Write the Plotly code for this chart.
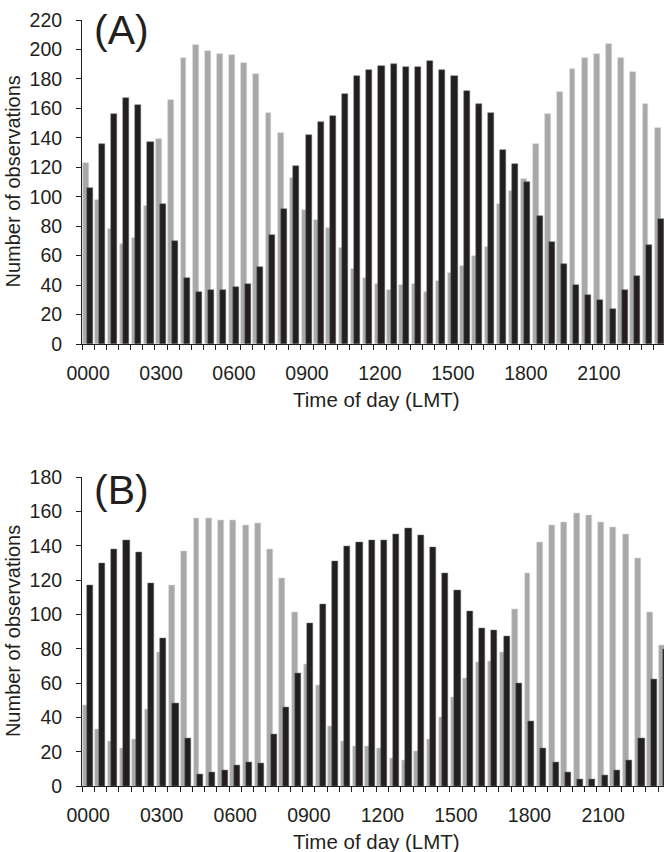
import plotly.graph_objects as go

time_bins = ["0000", "0030", "0100", "0130", "0200", "0230", "0300", "0330",
             "0400", "0430", "0500", "0530", "0600", "0630", "0700", "0730",
             "0800", "0830", "0900", "0930", "1000", "1030", "1100", "1130",
             "1200", "1230", "1300", "1330", "1400", "1430", "1500", "1530",
             "1600", "1630", "1700", "1730", "1800", "1830", "1900", "1930",
             "2000", "2030", "2100", "2130", "2200", "2230", "2300", "2330"]
tick_labels = ["0000", "0300", "0600", "0900", "1200", "1500", "1800", "2100"]

a_gray = [123, 98, 78, 68, 72, 94, 139, 166, 194, 203, 199, 197, 196, 191, 183, 157,
          143, 113, 91, 84, 79, 65, 51, 45, 41, 37, 40, 41, 35, 43, 48, 53,
          60, 66, 95, 104, 112, 136, 156, 171, 187, 194, 197, 204, 194, 185, 163, 147]
a_black = [106, 136, 156, 167, 162, 137, 95, 70, 45, 35, 37, 37, 39, 41, 52, 74,
           92, 121, 142, 151, 155, 170, 182, 186, 189, 190, 188, 188, 192, 186, 182, 172,
           163, 157, 132, 122, 110, 87, 69, 54, 40, 33, 30, 24, 37, 46, 67, 85]

b_gray = [47, 33, 26, 22, 27, 45, 78, 117, 137, 156, 156, 155, 155, 152, 153, 138,
          121, 101, 71, 59, 35, 26, 23, 23, 22, 16, 15, 20, 27, 40, 52, 63,
          72, 73, 78, 103, 124, 142, 152, 154, 159, 158, 154, 151, 147, 133, 101, 82]
b_black = [117, 130, 138, 143, 136, 118, 86, 48, 28, 7, 8, 9, 12, 14, 13, 30,
           46, 66, 95, 106, 131, 140, 142, 143, 143, 147, 150, 146, 139, 124, 114, 102,
           92, 91, 87, 60, 38, 22, 14, 8, 4, 4, 6, 9, 15, 28, 62, 80]

GRAY = "#a7a9a9"
BLACK = "#231f20"
AX = "#231f20"
FONT = "Liberation Sans, Arial, sans-serif"

x = list(range(len(time_bins)))
tickvals = [time_bins.index(t) for t in tick_labels]

fig = go.Figure()
panels = [(a_gray, a_black, "x", "y"), (b_gray, b_black, "x2", "y2")]
for g, k, xa, ya in panels:
    fig.add_trace(go.Bar(x=x, y=g, xaxis=xa, yaxis=ya, marker=dict(color=GRAY, line=dict(color="#d4d4d4", width=0.6)),
                         offset=-0.40, width=0.48, showlegend=False))
    fig.add_trace(go.Bar(x=x, y=k, xaxis=xa, yaxis=ya, marker=dict(color=BLACK, line=dict(color="#6a6a6a", width=0.5)),
                         offset=-0.12, width=0.50, showlegend=False))

def xaxis_cfg(rng, anchor):
    return dict(range=rng, anchor=anchor, domain=[0, 1], showline=True, linecolor=AX, linewidth=1,
                tickmode="array", tickvals=tickvals, ticktext=tick_labels,
                ticks="outside", ticklen=12, tickcolor="rgba(0,0,0,0)",
                minor=dict(tickmode="linear", tick0=-0.5, dtick=1, ticks="outside", ticklen=5,
                           tickcolor=AX, tickwidth=1, showgrid=False),
                showgrid=False, zeroline=False,
                tickfont=dict(family=FONT, size=19.5, color=BLACK))

def yaxis_cfg(rng, domain, anchor):
    return dict(range=rng, domain=domain, anchor=anchor, showline=True, linecolor=AX, linewidth=1,
                dtick=20, tick0=0, ticks="outside", ticklen=5, tickcolor=AX, tickwidth=1,
                ticklabelstandoff=10,
                showgrid=False, zeroline=False,
                tickfont=dict(family=FONT, size=19.5, color=BLACK))

fig.update_layout(
    width=664, height=852,
    margin=dict(l=82, r=0, t=20, b=66),
    plot_bgcolor="white", paper_bgcolor="white",
    barmode="overlay", bargap=0,
    xaxis=xaxis_cfg([-0.5, 47.36], "y"),
    yaxis=yaxis_cfg([0, 220], [0.577, 1.0], "x"),
    xaxis2=xaxis_cfg([-0.5, 46.97], "y2"),
    yaxis2=yaxis_cfg([0, 180], [0.0, 0.403], "x2"),
    font=dict(family=FONT, color=BLACK),
)

annos = [
    dict(text="(A)", x=0.0687, y=0.987, size=41),
    dict(text="(B)", x=0.0687, y=0.386, size=41),
    dict(text="Time of day (LMT)", x=(376.7 - 82) / 582, y=(786 - 399) / 766, size=20.5),
    dict(text="Time of day (LMT)", x=(376.7 - 82) / 582, y=(786 - 841) / 766, size=20.5),
]
for a in annos:
    fig.add_annotation(text=a["text"], x=a["x"], y=a["y"], xref="paper", yref="paper",
                       xanchor="center", yanchor="middle", showarrow=False,
                       font=dict(family=FONT, size=a["size"], color=BLACK))
for yc in [(786 - 182) / 766, (786 - 631.6) / 766]:
    fig.add_annotation(text="Number of observations", x=(12.5 - 82) / 582, y=yc, xref="paper", yref="paper",
                       xanchor="center", yanchor="middle", textangle=-90, showarrow=False,
                       font=dict(family=FONT, size=20, color=BLACK))

fig.write_html("out.html", config={"displayModeBar": False},
               post_script="document.body.style.margin='0';document.body.style.overflow='hidden';")
